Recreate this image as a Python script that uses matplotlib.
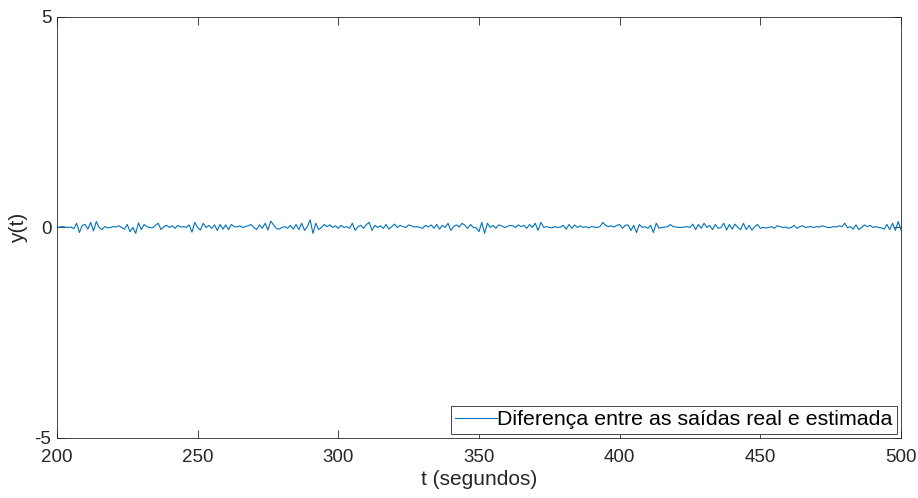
import matplotlib
matplotlib.use("Agg")
import matplotlib.pyplot as plt
import numpy

# Valores (diferença entre saída real e estimada), t = 200..500
t = numpy.arange(200, 501)
y = [
    0.00, 0.01, 0.02, 0.01, 0.00, 0.01, -0.03, 0.10, -0.12, 0.05,
    0.07, -0.04, 0.12, -0.08, 0.14, 0.00, -0.05, 0.02, -0.01, 0.00,
    0.02, 0.01, 0.04, 0.00, -0.04, 0.07, -0.10, 0.00, -0.14, 0.11,
    -0.05, 0.07, 0.02, 0.00, -0.01, 0.05, 0.10, -0.05, 0.02, 0.05,
    0.00, 0.04, -0.02, 0.05, 0.01, 0.02, 0.00, 0.06, -0.11, 0.12,
    0.00, -0.06, 0.10, 0.00, 0.05, -0.02, 0.06, -0.07, 0.07, -0.04,
    0.06, -0.05, 0.07, 0.02, 0.01, 0.04, 0.00, 0.02, 0.04, 0.07,
    0.00, -0.05, 0.06, -0.02, 0.10, -0.06, 0.15, 0.06, -0.02, -0.04,
    0.00, 0.02, -0.02, 0.05, -0.04, 0.07, -0.05, 0.10, -0.07, 0.02,
    0.18, -0.14, 0.10, -0.05, 0.00, 0.07, 0.02, 0.06, 0.00, 0.04,
    -0.02, 0.05, 0.00, 0.02, -0.02, 0.10, -0.07, 0.02, 0.05, -0.02,
    0.07, 0.12, -0.07, 0.05, 0.00, 0.04, -0.02, 0.07, -0.04, 0.02,
    0.08, 0.00, 0.05, 0.02, 0.00, 0.06, 0.04, 0.01, 0.02, 0.00,
    -0.02, 0.05, 0.01, 0.06, -0.02, 0.07, -0.04, 0.05, 0.00, 0.10,
    -0.07, 0.02, 0.06, 0.01, 0.10, 0.05, -0.02, 0.07, 0.00, -0.01,
    -0.10, 0.12, -0.14, 0.10, 0.00, 0.05, -0.02, 0.06, 0.04, 0.00,
    0.02, 0.05, 0.04, 0.00, 0.06, 0.02, 0.05, -0.02, 0.07, 0.00,
    0.10, -0.07, 0.12, 0.00, 0.02, 0.00, -0.01, 0.02, 0.00, 0.01,
    0.05, -0.04, 0.07, -0.02, 0.06, 0.00, 0.04, 0.00, 0.02, -0.01,
    0.02, 0.01, 0.00, 0.02, 0.12, 0.05, 0.02, 0.04, 0.01, 0.05,
    0.07, -0.02, 0.05, 0.06, -0.07, 0.05, -0.12, 0.07, 0.00, 0.02,
    -0.02, 0.05, -0.12, 0.10, -0.02, 0.00, 0.01, 0.02, 0.07, 0.02,
    0.01, 0.00, 0.00, 0.01, 0.02, 0.00, 0.08, -0.05, 0.07, -0.02,
    0.10, 0.00, 0.05, -0.05, 0.07, -0.02, 0.00, 0.10, -0.06, 0.07,
    -0.04, 0.08, 0.00, -0.05, 0.10, -0.05, 0.05, -0.06, 0.02, 0.07,
    -0.02, 0.00, -0.01, 0.00, 0.02, -0.02, 0.04, 0.02, 0.00, 0.01,
    -0.02, 0.00, 0.05, -0.02, 0.02, 0.04, 0.00, 0.01, 0.02, 0.00,
    0.02, 0.01, 0.04, 0.02, 0.00, 0.00, 0.02, 0.01, 0.04, 0.02,
    0.10, -0.01, 0.02, -0.04, 0.06, -0.05, 0.00, 0.06, 0.02, 0.05,
    0.00, 0.02, 0.00, -0.01, -0.04, 0.07, -0.05, 0.10, -0.07, 0.14,
    -0.06,
]

plt.rcParams["font.family"] = ["Liberation Sans", "DejaVu Sans"]
plt.rcParams["axes.unicode_minus"] = False

fig = plt.figure(figsize=(9.18, 4.98), dpi=100)
ax = fig.add_axes([0.062, 0.1205, 0.9195, 0.8455])

ax.plot(t, y, color="#0072BD", linewidth=0.8,
        label="Diferença entre as saídas real e estimada")

ax.set_xlim(200, 500)
ax.set_ylim(-5, 5)
ax.set_xticks(numpy.arange(200, 501, 50))
ax.set_yticks([-5, 0, 5])
ax.tick_params(direction="in", length=6, width=0.6, labelsize=13.5,
               colors="#262626", top=True, right=True)
ax.tick_params(axis="x", pad=8)
ax.tick_params(axis="y", pad=4)
for s in ax.spines.values():
    s.set_linewidth(0.6)
    s.set_color("#262626")
ax.set_xlabel("t (segundos)", fontsize=15, color="#262626", labelpad=3)
ax.set_ylabel("y(t)", fontsize=15, color="#262626", labelpad=5)

leg = ax.legend(loc="lower right", fontsize=15.4, fancybox=False,
                framealpha=1, edgecolor="#262626", borderpad=0.2,
                handlelength=1.95, handletextpad=0.0, borderaxespad=0.2)
leg.get_frame().set_linewidth(0.6)

fig.savefig("out.png", dpi=100)
